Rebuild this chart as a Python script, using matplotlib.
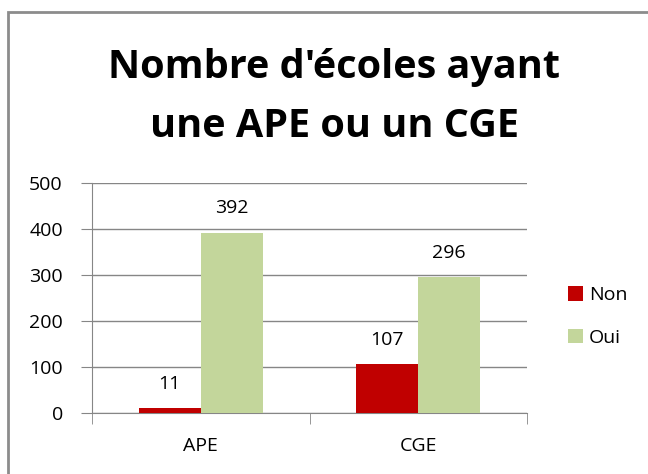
import matplotlib.pyplot as plt
import numpy as np
from matplotlib.patches import Rectangle

categories = ["APE", "CGE"]
non = [11, 107]
oui = [392, 296]
series_names = ["Non", "Oui"]
colors = ["#c00000", "#c3d69b"]

plt.rcParams['font.family'] = ['Open Sans', 'DejaVu Sans']

fig = plt.figure(figsize=(6.48, 4.74), dpi=100)

# chart border
fig.patches.append(Rectangle((8 / 648, -0.1), 1.2, 1 - 12 / 474 + 0.1,
                             transform=fig.transFigure, fill=False,
                             edgecolor="#8c8c8c", linewidth=2))

ax = fig.add_axes([92 / 648, 1 - 413 / 474, 435 / 648, 230 / 474])

x = np.arange(len(categories))
w = 0.285
b1 = ax.bar(x - w / 2, non, w, color=colors[0], label=series_names[0], zorder=3)
b2 = ax.bar(x + w / 2, oui, w, color=colors[1], label=series_names[1], zorder=3)

for bars in (b1, b2):
    for r in bars:
        ax.annotate(str(int(r.get_height())),
                    (r.get_x() + r.get_width() / 2, r.get_height()),
                    xytext=(0, 11), textcoords="offset points",
                    ha="center", va="bottom", fontsize=14)

ax.set_xlim(-0.5, 1.5)
ax.set_ylim(0, 500)
ax.set_yticks(range(0, 501, 100))
ax.set_xticks(x)
ax.set_xticklabels(categories)
ax.set_xticks([-0.5, 0.5, 1.5], minor=True)
ax.tick_params(axis="x", which="major", length=0, pad=17, labelsize=14)
ax.tick_params(axis="x", which="minor", length=8, color="#868686", direction="out")
ax.tick_params(axis="y", length=8, color="#868686", labelsize=14, pad=13)

ax.grid(axis="y", color="#868686", linewidth=1, zorder=0)
for s in ["top", "right"]:
    ax.spines[s].set_visible(False)
ax.spines["left"].set_color("#868686")
ax.spines["bottom"].set_color("#868686")

fig.text(334 / 648, 1 - 97 / 474, "Nombre d'écoles ayant\nune APE ou un CGE",
         ha="center", va="center", fontsize=28.5, fontweight="bold",
         linespacing=1.65)

ax.legend(loc="center left", bbox_to_anchor=(1.055, 0.42), frameon=False,
          fontsize=14, handlelength=0.75, handleheight=0.75,
          labelspacing=1.25, handletextpad=0.3)

fig.savefig("out.png", dpi=100)
